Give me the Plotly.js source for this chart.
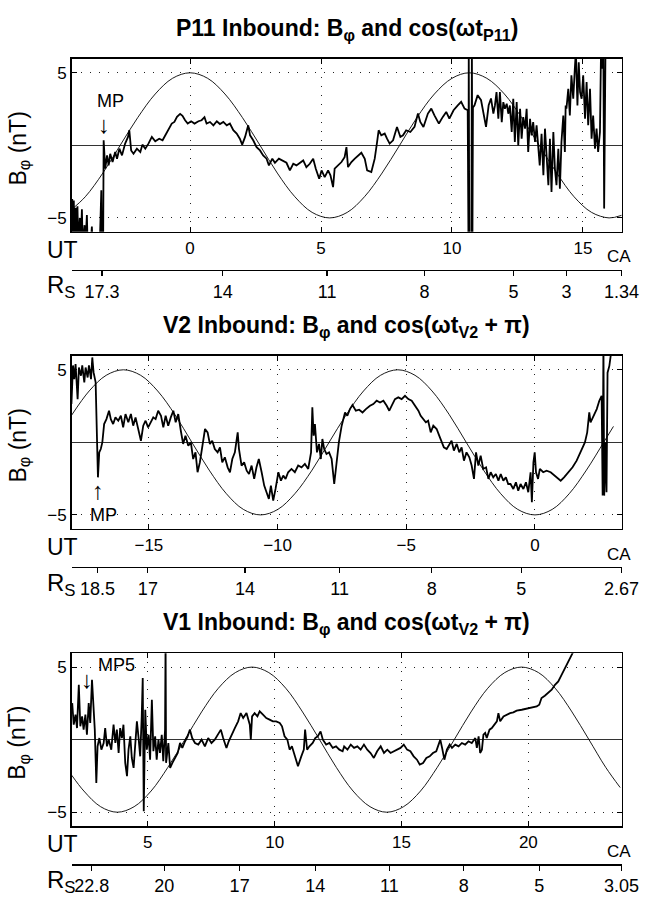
<!DOCTYPE html>
<html>
<head>
<meta charset="utf-8">
<script src="https://cdn.plot.ly/plotly-3.0.1.min.js"></script>
<style>html,body{margin:0;padding:0;background:#fff;}#chart{width:647px;height:897px;}</style>
</head>
<body>
<div id="chart"></div>
<script>
// ---------------- DATA ----------------
// Panel titles
const panelTitles = [
  '<b>P11 Inbound: B<sub>φ</sub> and cos(ωt<sub>P11</sub>)</b>',
  '<b>V2 Inbound: B<sub>φ</sub> and cos(ωt<sub>V2</sub> + π)</b>',
  '<b>V1 Inbound: B<sub>φ</sub> and cos(ωt<sub>V2</sub> + π)</b>'
];

// UT axis ranges and ticks
const p11Range = [-4.52, 16.48];
const v2Range = [-18.0, 3.37];
const v1Range = [2.0, 23.68];
const p11UtTicks = [0, 5, 10, 15];
const v2UtTicks = [-15, -10, -5, 0];
const v1UtTicks = [5, 10, 15, 20];
const bTicks = [-5, 5];

// R_S (distance) axis: UT position of each tick and its label
const p11RsAt = [-3.36, 1.245, 5.23, 8.95, 12.35, 14.37, 16.47];
const p11RsLabels = ['17.3', '14', '11', '8', '5', '3', '1.34'];
const v2RsAt = [-17.0, -15.04, -11.27, -7.59, -4.01, -0.53, 3.36];
const v2RsLabels = ['18.5', '17', '14', '11', '8', '5', '2.67'];
const v1RsAt = [2.79, 5.65, 8.62, 11.6, 14.52, 17.45, 20.43, 23.67];
const v1RsLabels = ['22.8', '20', '17', '14', '11', '8', '5', '3.05'];

// B_phi (nT) readings, [UT hours, nT]
const p11Bphi = [
 [-4.50,-3.7],[-4.47,-7],[-4.44,-3.8],[-4.41,-7],[-4.37,-4.3],[-4.34,-7],[-4.30,-4.2],[-4.27,-7],[-4.21,-5.0],[-4.18,-7],
 [-4.13,-4.4],[-4.10,-7],[-4.03,-5.5],[-4.00,-7],[-3.94,-4.8],[-3.91,-7],[-3.80,-7],[-3.75,-5.6],[-3.72,-7],[-3.45,-7],
 [-3.39,-3.1],[-3.37,-7],[-3.32,-7],[-3.30,0.35],[-3.24,-1.61],[-3.17,-0.69],[-3.11,-1.38],[-3.05,-0.58],[-2.96,-1.15],[-2.86,-0.46],
 [-2.79,-0.92],[-2.70,-0.23],[-2.60,-0.69],[-2.48,0.12],[-2.37,0.58],[-2.32,1.04],[-2.25,-0.35],[-2.16,-0.58],[-2.03,-0.23],[-1.90,-0.46],
 [-1.82,0.05],[-1.71,-0.23],[-1.59,0.12],[-1.46,0.58],[-1.33,0.28],[-1.18,0.46],[-1.05,0.35],[-0.93,0.74],[-0.80,1.11],[-0.70,1.5],
 [-0.60,1.61],[-0.50,1.96],[-0.38,2.17],[-0.29,2.03],[-0.19,1.73],[-0.09,1.5],[0.04,1.66],[0.17,1.5],[0.32,1.66],[0.44,1.73],
 [0.55,1.94],[0.63,1.5],[0.76,1.61],[0.89,1.38],[1.02,1.66],[1.14,1.47],[1.27,1.61],[1.40,1.38],[1.52,1.5],[1.65,1.04],
 [1.78,0.81],[1.90,0.46],[1.99,0.05],[2.10,0.58],[2.22,1.38],[2.29,0.69],[2.41,0.35],[2.54,-0.12],[2.67,-0.35],[2.79,-0.69],
 [2.92,-0.92],[3.01,-1.38],[3.14,-0.92],[3.24,-1.2],[3.39,-0.92],[3.56,-1.1],[3.68,-1.2],[3.81,-1.73],[3.94,-1.27],[4.06,-1.38],
 [4.19,-1.2],[4.32,-1.04],[4.44,-1.5],[4.57,-1.27],[4.70,-0.92],[4.80,-1.61],[4.93,-2.3],[5.02,-1.73],[5.14,-2.19],[5.27,-1.73],
 [5.36,-2.07],[5.46,-2.88],[5.52,-1.61],[5.65,-1.38],[5.78,-1.15],[5.90,-0.81],[5.97,-0.12],[6.03,-1.5],[6.16,-1.15],[6.29,-0.92],
 [6.41,-0.69],[6.54,-0.51],[6.67,-0.92],[6.76,-1.73],[6.92,-1.84],[7.05,-0.92],[7.14,0.23],[7.20,1.04],[7.30,0.69],[7.43,0.81],
 [7.52,0.46],[7.62,0.12],[7.75,0.35],[7.90,1.27],[8.03,0.58],[8.13,0.69],[8.25,1.04],[8.41,0.92],[8.57,1.27],[8.70,2.19],
 [8.79,1.61],[8.91,1.27],[9.08,2.19],[9.21,2.53],[9.33,2.07],[9.50,1.5],[9.65,1.96],[9.78,2.3],[9.90,1.84],[10.06,2.42],
 [10.22,2.76],[10.35,3.0],[10.48,2.53],[10.60,2.42],[10.63,-7],[10.64,7],[10.66,-7],[10.74,-7],[10.76,7],[10.78,-7],
 [10.80,2.6],[10.86,2.76],[10.98,3.46],[11.11,3.11],[11.20,2.19],[11.30,1.27],[11.40,2.76],[11.49,3.23],[11.58,2.19],[11.64,2.75],
 [11.70,3.67],[11.77,1.83],[11.83,3.67],[11.90,1.6],[11.96,2.98],[12.02,2.52],[12.09,2.87],[12.15,2.18],[12.21,2.75],[12.28,0.92],
 [12.34,3.21],[12.40,0.23],[12.47,2.98],[12.53,0],[12.60,2.52],[12.66,0.46],[12.72,1.95],[12.79,1.15],[12.85,2.52],[12.91,-0.46],
 [12.98,1.83],[13.04,0.69],[13.10,1.6],[13.17,0.23],[13.23,1.38],[13.28,0.11],[13.35,-1.38],[13.42,0.8],[13.49,-2.06],[13.55,1.15],
 [13.61,-1.15],[13.68,-2.75],[13.74,0.46],[13.80,-3.21],[13.87,0.92],[13.93,-1.61],[13.99,-2.75],[14.06,-0.23],[14.12,-2.98],[14.18,0.23],
 [14.25,2.06],[14.31,-0.46],[14.34,2.75],[14.37,2.52],[14.44,3.9],[14.50,2.06],[14.56,4.82],[14.63,3.21],[14.69,5.28],[14.73,6.5],
 [14.79,2.75],[14.84,5.73],[14.89,3.67],[14.95,3.21],[15.01,4.82],[15.08,1.83],[15.14,4.36],[15.20,1.38],[15.27,3.9],[15.33,0.46],
 [15.39,2.06],[15.46,-0.23],[15.52,1.15],[15.58,-0.46],[15.65,0.92],[15.69,6.5],[15.74,5.28],[15.78,6.5],[15.81,-4.36],[15.86,6.5],
 [15.91,7]
];

const v2Bphi = [
 [-18.01,2.64],[-17.95,5.3],[-17.9,4.36],[-17.85,5.4],[-17.77,2.98],[-17.72,5.16],[-17.64,4.59],[-17.59,5.3],[-17.51,4.13],[-17.46,5.16],
 [-17.38,4.47],[-17.33,5.3],[-17.25,4.36],[-17.2,5.85],[-17.15,4.82],[-17.07,4.13],[-17.02,0.46],[-16.98,-2.41],[-16.93,-0.69],[-16.87,-0.46],
 [-16.81,0],[-16.74,1.26],[-16.65,1.6],[-16.55,2.18],[-16.48,1.6],[-16.39,1.26],[-16.3,1.72],[-16.19,1.49],[-16.09,1.83],[-16.0,1.03],
 [-15.91,1.95],[-15.8,1.38],[-15.7,1.95],[-15.61,1.15],[-15.52,1.72],[-15.41,0.92],[-15.31,0.11],[-15.22,1.15],[-15.13,1.49],[-15.03,1.03],
 [-14.92,1.38],[-14.83,1.72],[-14.74,1.6],[-14.64,2.18],[-14.53,1.83],[-14.44,1.03],[-14.35,1.83],[-14.25,1.15],[-14.15,1.72],[-14.05,2.18],
 [-13.96,1.38],[-13.86,1.95],[-13.76,0.8],[-13.67,-0.11],[-13.58,0.46],[-13.47,-0.23],[-13.37,0],[-13.28,-1.15],[-13.19,-0.69],[-13.11,-2.06],
 [-13.02,-1.38],[-12.93,-0.46],[-12.82,0.92],[-12.72,0.69],[-12.63,-0.11],[-12.54,0.11],[-12.44,-0.46],[-12.33,-0.69],[-12.24,-0.34],[-12.15,-1.38],
 [-12.05,-1.03],[-11.94,-1.72],[-11.85,-2.06],[-11.76,-1.15],[-11.66,-0.69],[-11.55,0.69],[-11.5,-0.46],[-11.4,-1.6],[-11.3,-1.38],[-11.2,-1.95],
 [-11.11,-2.18],[-11.01,-1.6],[-10.91,-2.52],[-10.82,-1.72],[-10.73,-1.15],[-10.62,-2.06],[-10.52,-2.98],[-10.43,-3.44],[-10.34,-3.9],[-10.26,-2.98],
 [-10.17,-4.01],[-10.08,-3.21],[-9.97,-2.06],[-9.87,-2.64],[-9.78,-2.29],[-9.69,-2.52],[-9.59,-2.06],[-9.46,-1.83],[-9.33,-2.06],[-9.2,-1.6],
 [-9.07,-1.72],[-8.94,-1.49],[-8.81,-1.83],[-8.7,-0.69],[-8.65,2.41],[-8.6,0.46],[-8.55,1.26],[-8.47,-0.69],[-8.39,-0.11],[-8.32,-1.15],
 [-8.26,0.23],[-8.19,-0.46],[-8.1,-0.8],[-8.0,-0.69],[-7.9,-1.15],[-7.8,-2.87],[-7.71,-1.38],[-7.62,0],[-7.51,1.15],[-7.45,1.6],
 [-7.38,2.06],[-7.29,1.83],[-7.19,2.29],[-7.09,2.57],[-6.96,2.18],[-6.83,2.25],[-6.7,2.06],[-6.57,2.29],[-6.41,2.52],[-6.28,2.64],
 [-6.15,2.87],[-6.02,2.75],[-5.89,2.87],[-5.76,2.52],[-5.66,2.18],[-5.57,2.52],[-5.44,2.98],[-5.31,3.1],[-5.18,2.98],[-5.05,3.21],
 [-4.92,2.98],[-4.79,2.87],[-4.66,2.52],[-4.53,2.18],[-4.44,1.83],[-4.34,1.6],[-4.24,1.38],[-4.15,1.49],[-4.05,0.69],[-3.95,1.15],
 [-3.82,0.92],[-3.72,0.46],[-3.63,0.11],[-3.54,-0.34],[-3.43,-0.46],[-3.33,-0.11],[-3.24,0.11],[-3.15,-0.57],[-3.04,-0.11],[-2.94,-0.69],
 [-2.85,-0.34],[-2.76,-1.26],[-2.66,-0.69],[-2.55,-1.03],[-2.46,-1.6],[-2.37,-2.52],[-2.29,-0.69],[-2.2,-1.6],[-2.11,-0.92],[-2.01,-1.83],
 [-1.9,-1.72],[-1.81,-2.52],[-1.72,-2.06],[-1.62,-2.41],[-1.52,-2.18],[-1.42,-2.64],[-1.33,-2.18],[-1.23,-2.64],[-1.13,-2.41],[-1.04,-2.87],
 [-0.95,-2.87],[-0.84,-3.21],[-0.74,-2.75],[-0.65,-3.33],[-0.56,-2.87],[-0.45,-3.21],[-0.35,-2.75],[-0.26,-3.44],[-0.17,-2.06],[-0.12,-4.13],
 [-0.06,-1.38],[-0.01,-0.69],[0.04,-2.06],[0.12,-2.52],[0.19,-1.83],[0.32,-2.06],[0.45,-1.95],[0.61,-2.06],[0.78,-2.29],[0.91,-2.52],
 [1.0,-2.64],[1.13,-2.41],[1.3,-2.06],[1.46,-1.72],[1.62,-1.26],[1.77,-0.69],[1.94,0],[2.03,0.69],[2.11,2.06],[2.16,1.38],
 [2.27,1.83],[2.4,2.29],[2.5,2.87],[2.59,3.21],[2.63,-3.67],[2.66,7],[2.69,-3.67],[2.74,0],[2.78,-3.44],[2.82,4.8],
 [2.89,5.27],[2.98,6.2],[3.02,7]
];

const v1Bphi = [
 [2.02,2.52],[2.08,1.03],[2.15,1.72],[2.21,0.8],[2.28,3.78],[2.34,0.92],[2.41,1.6],[2.47,0.69],[2.54,1.72],[2.60,0.34],
 [2.67,2.52],[2.73,1.15],[2.80,4.13],[2.84,2.98],[2.91,0.69],[2.97,-2.98],[3.02,-0.46],[3.09,0.11],[3.17,-0.69],[3.26,-0.23],
 [3.32,0.8],[3.39,-0.46],[3.46,0],[3.56,-0.69],[3.65,1.03],[3.72,-0.23],[3.78,0.69],[3.85,-0.92],[3.91,0.8],[3.98,0.11],
 [4.04,1.03],[4.11,-1.6],[4.18,-2.52],[4.24,-0.69],[4.31,0.23],[4.37,-1.26],[4.44,-1.95],[4.50,-0.46],[4.57,1.26],[4.63,0.23],
 [4.70,-1.15],[4.76,1.6],[4.80,4.24],[4.84,-4.93],[4.90,2.06],[4.96,-0.69],[5.03,0.34],[5.09,-1.38],[5.16,2.75],[5.22,-0.8],
 [5.29,0.23],[5.35,-1.38],[5.42,0],[5.48,-0.92],[5.55,0.34],[5.61,-1.49],[5.68,0.69],[5.70,7],[5.72,-1.6],[5.81,-0.23],
 [5.88,-1.95],[5.97,-1.6],[6.07,-1.26],[6.18,-0.92],[6.27,-0.23],[6.36,-0.57],[6.47,-0.11],[6.57,0.23],[6.66,0.69],[6.75,0.11],
 [6.86,-0.23],[6.99,-0.34],[7.12,0],[7.25,-0.46],[7.38,0.11],[7.51,-0.23],[7.64,0],[7.77,0.34],[7.88,0.69],[7.97,0.11],
 [8.10,-0.57],[8.19,-0.11],[8.30,0.34],[8.43,0.8],[8.56,1.26],[8.66,1.83],[8.76,1.49],[8.89,1.83],[9.02,1.03],[9.06,0],
 [9.11,1.6],[9.21,1.83],[9.32,1.6],[9.41,1.95],[9.54,1.72],[9.67,1.49],[9.80,1.38],[9.93,1.26],[10.06,1.26],[10.20,1.15],
 [10.29,0.92],[10.39,0.23],[10.50,0],[10.59,-0.69],[10.68,-0.46],[10.79,-1.15],[10.92,-1.83],[11.05,-1.15],[11.15,-0.69],[11.20,0.69],
 [11.28,-0.69],[11.37,-0.46],[11.50,-0.23],[11.60,0.11],[11.70,0.23],[11.81,0.57],[11.90,0],[12.03,-0.34],[12.16,-0.23],[12.29,-0.57],
 [12.42,-0.46],[12.55,-0.69],[12.68,-0.8],[12.74,-0.46],[12.87,-0.69],[13.0,-0.34],[13.13,-0.57],[13.26,-0.46],[13.39,-0.69],[13.52,-0.34],
 [13.65,-0.69],[13.78,-0.92],[13.91,-1.26],[14.04,-0.8],[14.18,-0.46],[14.31,-0.92],[14.44,-0.69],[14.57,-0.92],[14.70,-0.8],[14.83,-0.69],
 [14.96,-0.57],[15.09,-0.34],[15.22,-0.69],[15.35,-0.8],[15.48,-1.15],[15.61,-1.38],[15.72,-1.72],[15.85,-1.61],[15.98,-1.26],[16.11,-1.15],
 [16.24,-0.92],[16.37,-0.8],[16.47,-0.23],[16.53,0],[16.60,-0.57],[16.69,-1.38],[16.79,-0.69],[16.90,-0.34],[16.99,-0.57],[17.12,-0.34],
 [17.25,-0.46],[17.38,-0.23],[17.51,-0.34],[17.64,-0.11],[17.77,-0.23],[17.91,0.11],[17.97,-0.57],[18.04,0.23],[18.10,-0.92],[18.17,-0.69],
 [18.23,0.34],[18.30,0.46],[18.36,0.11],[18.47,0.69],[18.56,0.8],[18.65,1.03],[18.76,1.26],[18.82,1.83],[18.89,1.26],[19.02,1.6],
 [19.15,1.72],[19.28,1.83],[19.41,1.88],[19.54,2.0],[19.74,2.06],[19.93,2.13],[20.13,2.25],[20.33,2.29],[20.43,2.41],[20.52,2.87],
 [20.65,3.03],[20.79,3.21],[20.92,3.44],[21.05,3.78],[21.18,4.01],[21.31,4.47],[21.44,4.93],[21.57,5.39],[21.70,5.85],[21.83,6.19],
 [21.90,6.5]
];

// Model cosine curves, [UT hours, nT]
const p11Cos = [
 [-4.52,-4.41],[-4.0,-3.54],[-3.33,-1.91],[-2.67,0],[-2.0,1.91],[-1.33,3.54],[-0.67,4.62],[0,5],[0.67,4.62],[1.33,3.54],
 [2.0,1.91],[2.67,0],[3.33,-1.91],[4.0,-3.54],[4.66,-4.62],[5.33,-5],[6.0,-4.62],[6.66,-3.54],[7.33,-1.91],[8.0,0],
 [8.66,1.91],[9.33,3.54],[10.0,4.62],[10.66,5],[11.33,4.62],[12.0,3.54],[12.66,1.91],[13.33,0],[14.0,-1.91],[14.66,-3.54],
 [15.33,-4.62],[16.0,-5],[16.48,-4.82]
];
const v2Cos = [
 [-18.0,1.88],[-17.32,3.54],[-16.66,4.62],[-15.99,5],[-15.32,4.62],[-14.66,3.54],[-13.99,1.91],[-13.33,0],[-12.66,-1.91],[-11.99,-3.54],
 [-11.33,-4.62],[-10.66,-5],[-9.99,-4.62],[-9.33,-3.54],[-8.66,-1.91],[-8.0,0],[-7.33,1.91],[-6.66,3.54],[-6.0,4.62],[-5.33,5],
 [-4.66,4.62],[-4.0,3.54],[-3.33,1.91],[-2.67,0],[-2.0,-1.91],[-1.33,-3.54],[-0.67,-4.62],[0,-5],[0.67,-4.62],[1.33,-3.54],
 [2.0,-1.91],[2.67,0],[3.05,1.1]
];
const v1Cos = [
 [2.0,-2.45],[2.48,-3.54],[3.14,-4.62],[3.8,-5],[4.46,-4.62],[5.13,-3.54],[5.79,-1.91],[6.46,0],[7.12,1.91],[7.78,3.54],
 [8.45,4.62],[9.11,5],[9.77,4.62],[10.44,3.54],[11.1,1.91],[11.77,0],[12.43,-1.91],[13.09,-3.54],[13.76,-4.62],[14.42,-5],
 [15.08,-4.62],[15.75,-3.54],[16.41,-1.91],[17.08,0],[17.74,1.91],[18.4,3.54],[19.07,4.62],[19.73,5],[20.4,4.62],[21.06,3.54],
 [21.72,1.91],[22.39,0],[23.05,-1.91],[23.62,-3.3]
];

// Event labels: [UT, nT, text, font size]
const p11Events = [[-3.02, 3.05, 'MP', 18], [-3.27, 1.42, '↓', 24]];
const v2Events = [[-16.99, -3.3, '↑', 24], [-16.75, -5.02, 'MP', 18]];
const v1Events = [[3.77, 5.16, 'MP5', 18], [2.61, 4.15, '↓', 24]];

// ---------------- LAYOUT ----------------
const W = 647, H = 897;
const px = v => v / W;
const py = v => 1 - v / H;
const FONT = 'Liberation Sans, Arial, Helvetica, sans-serif';
const offs = [0, 297, 594.3];
const boxL = 71.7, boxR = 621.7, boxT = 59, boxB = 231.7, rsLine = 269.7;

const panels = [
  {bphi: p11Bphi, cos: p11Cos, range: p11Range, ut: p11UtTicks, rsAt: p11RsAt, rsLab: p11RsLabels, ev: p11Events},
  {bphi: v2Bphi, cos: v2Cos, range: v2Range, ut: v2UtTicks, rsAt: v2RsAt, rsLab: v2RsLabels, ev: v2Events},
  {bphi: v1Bphi, cos: v1Cos, range: v1Range, ut: v1UtTicks, rsAt: v1RsAt, rsLab: v1RsLabels, ev: v1Events}
];

const traces = [];
const layout = {
  width: W, height: H,
  margin: {l: 0, r: 0, t: 0, b: 0},
  paper_bgcolor: '#fff', plot_bgcolor: '#fff',
  showlegend: false,
  font: {family: FONT, color: '#000', size: 17},
  annotations: []
};

panels.forEach((p, i) => {
  const o = offs[i];
  const xi = i + 1, ri = i + 4;
  const xName = 'xaxis' + xi, yName = 'yaxis' + xi, rName = 'xaxis' + ri;
  const dom = [py(boxB + o), py(boxT + o)];
  const common = {
    showline: true, linecolor: '#000', linewidth: 1.7, mirror: 'ticks',
    ticks: 'inside', ticklen: 5, tickwidth: 1, tickcolor: '#000',
    showgrid: true, gridcolor: '#222', gridwidth: 1, griddash: '1px,8px',
    tickfont: {family: FONT, size: 17, color: '#000'}, fixedrange: true
  };
  layout[xName] = Object.assign({}, common, {
    domain: [px(boxL), px(boxR)], anchor: 'y' + xi, range: p.range,
    tickmode: 'array', tickvals: p.ut, zeroline: false
  });
  layout[yName] = Object.assign({}, common, {
    domain: dom, anchor: 'x' + xi, range: [-5.95, 5.95],
    tickmode: 'array', tickvals: bTicks,
    zeroline: true, zerolinecolor: '#333', zerolinewidth: 1
  });
  layout[rName] = {
    overlaying: 'x' + xi, anchor: 'free', position: py(rsLine + o), side: 'bottom',
    range: p.range, tickmode: 'array', tickvals: p.rsAt, ticktext: p.rsLab,
    showline: true, linecolor: '#000', linewidth: 1.5,
    ticks: 'outside', ticklen: 5, tickwidth: 1.2, tickcolor: '#000',
    showgrid: false, zeroline: false, fixedrange: true,
    tickfont: {family: FONT, size: 18, color: '#000'}
  };

  traces.push({
    type: 'scatter', mode: 'lines', xaxis: 'x' + ri, yaxis: 'y' + xi,
    x: p.cos.map(d => d[0]), y: p.cos.map(d => d[1]),
    line: {color: '#000', width: 0.9, shape: 'spline', smoothing: 1},
    hoverinfo: 'skip'
  });
  traces.push({
    type: 'scatter', mode: 'lines', xaxis: 'x' + xi, yaxis: 'y' + xi,
    x: p.bphi.map(d => d[0]), y: p.bphi.map(d => d[1]),
    line: {color: '#000', width: 1.8},
    hoverinfo: 'skip'
  });

  // panel title
  layout.annotations.push({
    xref: 'paper', yref: 'paper', x: px(347), y: py(29 + o),
    xanchor: 'center', yanchor: 'middle', showarrow: false,
    text: panelTitles[i], font: {family: FONT, size: 23, color: '#000'}
  });
  // y axis title
  layout.annotations.push({
    xref: 'paper', yref: 'paper', x: px(18.5), y: py(149 + o),
    xanchor: 'center', yanchor: 'middle', showarrow: false, textangle: -90,
    text: 'B<sub>φ</sub> (nT)', font: {family: FONT, size: 23, color: '#000'}
  });
  // UT label
  layout.annotations.push({
    xref: 'paper', yref: 'paper', x: px(62.5), y: py(250 + o),
    xanchor: 'center', yanchor: 'middle', showarrow: false,
    text: 'UT', font: {family: FONT, size: 23, color: '#000'}
  });
  // CA label
  layout.annotations.push({
    xref: 'paper', yref: 'paper', x: px(619), y: py(257 + o),
    xanchor: 'center', yanchor: 'middle', showarrow: false,
    text: 'CA', font: {family: FONT, size: 17, color: '#000'}
  });
  // R_S label
  layout.annotations.push({
    xref: 'paper', yref: 'paper', x: px(45), y: py(287 + o),
    xanchor: 'left', yanchor: 'middle', showarrow: false,
    text: 'R<sub>S</sub>', font: {family: FONT, size: 24, color: '#000'}
  });
  // event labels
  p.ev.forEach(e => {
    layout.annotations.push({
      xref: 'x' + xi, yref: 'y' + xi, x: e[0], y: e[1],
      xanchor: 'center', yanchor: 'middle', showarrow: false,
      text: e[2], font: {family: FONT, size: e[3], color: '#000'}
    });
  });
});

Plotly.newPlot('chart', traces, layout, {staticPlot: true, displayModeBar: false});
</script>
</body>
</html>
